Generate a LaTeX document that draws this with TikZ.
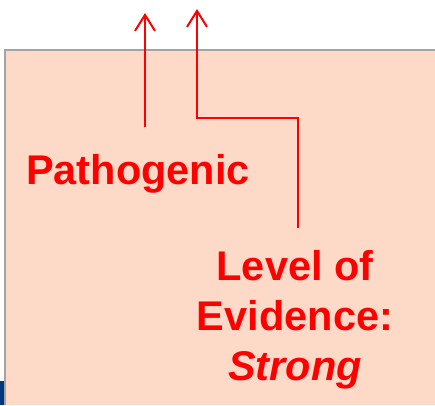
\documentclass[tikz,border=0pt]{standalone}
\usepackage{fontspec}
\setmainfont{Liberation Sans}
\usepackage{xcolor}
\usepackage{tikz}
\usetikzlibrary{arrows.meta,positioning}

\definecolor{peach}{RGB}{253,218,199}
\definecolor{frame}{RGB}{163,163,163}
\definecolor{navy}{RGB}{0,56,128}

\begin{document}
\begin{tikzpicture}[
  x=1pt, y=1pt,
  label/.style={text=red, font=\fontsize{41.5}{50}\selectfont\bfseries, inner sep=0pt, align=center},
  arr/.style={-{Straight Barb[length=16pt, width=20pt]}, red, line width=2pt}
]
\useasboundingbox (0,0) rectangle (435,405);
% panel
\fill[peach] (5,0) rectangle (435,355);
\draw[frame, line width=2.4pt] (5,0) -- (5,355) -- (435,355);
\fill[navy] (0,0) rectangle (4,24);

\node[label, anchor=base] (patho) at (138,221) {Pathogenic};
\node[label, anchor=base] (level) at (295,25) {Level of\\Evidence:\\\textit{Strong}};

\coordinate (pathoUp) at (145,278);
\coordinate (pathoTip) at (145,392);
\coordinate (levelUp) at (298,177);
\coordinate (levelTip) at (197,396);

\draw[arr] (pathoUp) -- (pathoTip);
\draw[arr] (levelUp) |- (197,287) -- (levelTip);
\end{tikzpicture}
\end{document}
